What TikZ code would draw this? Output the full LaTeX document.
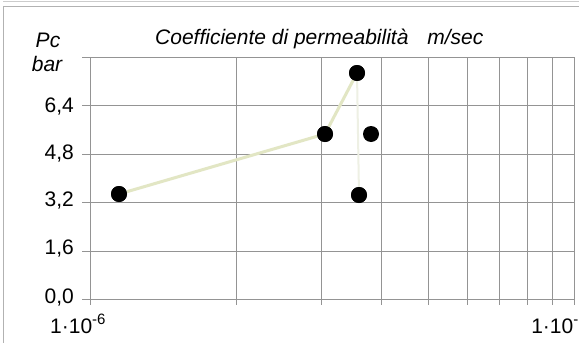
\documentclass[tikz,border=0pt]{standalone}
\usepackage{fontspec}
\setmainfont{Liberation Sans}
\definecolor{seriescol}{RGB}{226,230,196}
\definecolor{faintcol}{RGB}{238,240,228}
\begin{document}
\begin{tikzpicture}[x=1pt,y=-1pt,
  grid/.style={draw=black!42,line width=0.9pt},
  frame/.style={draw=black!30,line width=0.9pt},
  series/.style={draw=seriescol,line width=3pt},
  faint/.style={draw=faintcol,line width=2pt},
  dot/.style={circle,fill=black,inner sep=0pt,minimum size=16pt},
  lab/.style={font=\fontsize{21}{22}\selectfont,inner sep=0pt},
  ilab/.style={font=\fontsize{21}{22}\selectfont\itshape,inner sep=0pt}]
\useasboundingbox (0,0) rectangle (579,343);
\fill[white] (0,0) rectangle (579,343);
% outer frame
\draw[frame] (3,345) -- (3,6) -- (582,6);
\draw[draw=black!20,line width=0.6pt] (3,1.5) -- (582,1.5);
% horizontal grid lines
\foreach \yy in {57,105.5,154,202.5,251,299}
  \draw[grid] (82,\yy) -- (574,\yy);
% vertical grid lines (log decade)
\foreach \xx in {90,236,321,381,428,467,499,527,552,574}
  \draw[grid] (\xx,57) -- (\xx,305);
% y labels
\node[lab,anchor=base east] (l64) at (74,112) {6,4};
\node[lab,anchor=base east] (l48) at (74,159) {4,8};
\node[lab,anchor=base east] (l32) at (74,206) {3,2};
\node[lab,anchor=base east] (l16) at (74,254) {1,6};
\node[lab,anchor=base east] (l00) at (74,303) {0,0};
\node[ilab,anchor=base] (pc) at (48,47) {Pc};
\node[ilab,anchor=base] (bar) at (47,71) {bar};
% title
\node[ilab,anchor=base west] (title) at (155,44) {Coefficiente di permeabilità\hspace{0.9em}m/sec};
% x labels
\node[lab,anchor=base west] (xl) at (50,333) {1·10\raisebox{9pt}{\fontsize{15}{16}\selectfont -6}};
\node[lab,anchor=base east] (xr) at (578.5,333) {1·10\raisebox{9pt}{\fontsize{15}{16}\selectfont -}};
% data points
\node[dot] (p1) at (119,194) {};
\node[dot] (p2) at (325,134) {};
\node[dot] (p3) at (357,73) {};
\node[dot] (p4) at (371,134) {};
\node[dot] (p5) at (359,195) {};
\draw[faint] (p3) -- (p5);
\draw[series] (p1) -- (p2) -- (p3);
\node[dot] at (p1) {};
\node[dot] at (p2) {};
\node[dot] at (p3) {};
\node[dot] at (p5) {};
\end{tikzpicture}
\end{document}
